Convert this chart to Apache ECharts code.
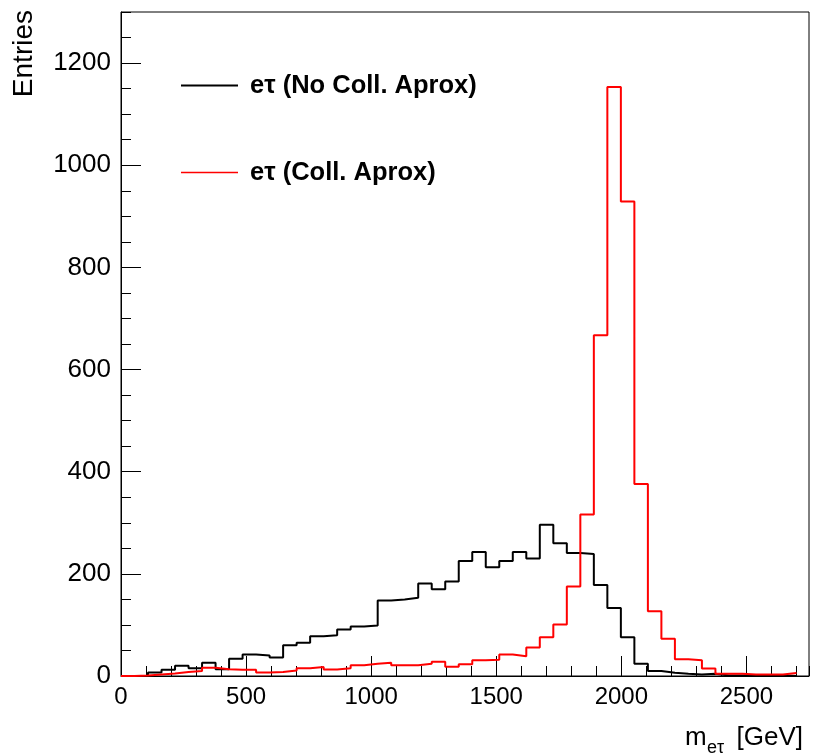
<!DOCTYPE html>
<html><head><meta charset="utf-8">
<script src="https://cdn.jsdelivr.net/npm/echarts@6/dist/echarts.min.js"></script>
<style>html,body{margin:0;padding:0;background:#fff}#c{width:814px;height:754px}</style>
</head><body><div id="c"></div>
<script>
// Histogram binning (GeV)
const binStart = 0;
const binWidth = 54;
// Entries per bin
const noCollApprox = [0, 0, 7, 12, 20, 15, 26, 13, 34, 42,
  40, 36, 60, 65, 78, 80, 91, 97, 99, 148,
  150, 153, 181, 170, 185, 225, 243, 213, 225, 243,
  230, 296, 260, 241, 239, 178, 133, 76, 24, 10,
  6.5, 4.5, 3, 4.5, 1, 1, 1, 0, 1, 0];
const collApprox = [0, 1, 3, 5, 8, 10, 16, 13, 12, 12,
  7, 8, 11, 15, 17.6, 12.5, 15, 21, 24, 26,
  21, 21, 24, 28, 18, 23, 31, 32, 42, 38.5,
  56, 76, 101, 175, 316, 667, 1153, 929, 376, 127,
  73, 33, 31, 14.5, 4.6, 4.6, 3, 3, 3, 6];
const seriesNames = ['e\u03c4 (No Coll. Aprox)', 'e\u03c4 (Coll. Aprox)'];
const xRange = [0, 2750];
const yRange = [0, 1300];

function toSteps(vals) {
  const d = vals.map((v, i) => [binStart + i * binWidth, v]);
  d.push([binStart + vals.length * binWidth, vals[vals.length - 1]]);
  return d;
}

const FONT = 'Liberation Sans, Arial, Helvetica, sans-serif';
const chart = echarts.init(document.getElementById('c'), null, {renderer: 'canvas'});
const legendText = {fontSize: 25.5, fontWeight: 'bold', color: '#000', fontFamily: FONT, padding: [0, 0, 0, 7]};
const plain = v => String(v);
chart.setOption({
  animation: false,
  backgroundColor: '#fff',
  grid: {left: 121, right: 5, top: 12, bottom: 78, show: true, borderColor: '#000', borderWidth: 1, backgroundColor: 'transparent'},
  legend: [
    {data: [seriesNames[0]], left: 181, top: 72.5, padding: 0, icon: 'rect', itemWidth: 57, itemHeight: 2, selectedMode: false, textStyle: legendText},
    {data: [seriesNames[1]], left: 181, top: 159.5, padding: 0, icon: 'rect', itemWidth: 57, itemHeight: 1.5, selectedMode: false, textStyle: legendText}
  ],
  xAxis: [
    {type: 'value', min: xRange[0], max: xRange[1], interval: 500,
     axisLine: {show: true, lineStyle: {color: '#000', width: 1}},
     axisTick: {show: true, inside: true, length: 20, lineStyle: {color: '#000', width: 1}},
     axisLabel: {fontSize: 24, color: '#000', fontFamily: FONT, margin: 9, showMaxLabel: false, formatter: plain},
     splitLine: {show: false}},
    {type: 'value', min: xRange[0], max: xRange[1], interval: 100, position: 'bottom',
     axisLine: {show: false},
     axisTick: {show: true, inside: true, length: 10, lineStyle: {color: '#000', width: 1}},
     axisLabel: {show: false}, splitLine: {show: false}}
  ],
  yAxis: [
    {type: 'value', min: yRange[0], max: yRange[1], interval: 200,
     axisLine: {show: true, lineStyle: {color: '#000', width: 1}},
     axisTick: {show: true, inside: true, length: 20, lineStyle: {color: '#000', width: 1}},
     axisLabel: {fontSize: 26, color: '#000', fontFamily: FONT, margin: 10, showMaxLabel: false, formatter: plain},
     splitLine: {show: false}},
    {type: 'value', min: yRange[0], max: yRange[1], interval: 50, position: 'left',
     axisLine: {show: false},
     axisTick: {show: true, inside: true, length: 10, lineStyle: {color: '#000', width: 1}},
     axisLabel: {show: false}, splitLine: {show: false}}
  ],
  series: [
    {name: seriesNames[0], type: 'line', step: 'end', showSymbol: false, symbol: 'none',
     color: '#000', lineStyle: {color: '#000', width: 2}, data: toSteps(noCollApprox), z: 3},
    {name: seriesNames[1], type: 'line', step: 'end', showSymbol: false, symbol: 'none',
     color: '#ff0000', lineStyle: {color: '#ff0000', width: 2}, data: toSteps(collApprox), z: 4}
  ],
  graphic: [
    {type: 'text', x: 10, y: 10, rotation: Math.PI / 2,
     style: {text: 'Entries', font: '28px ' + FONT, fill: '#000', textAlign: 'right', textVerticalAlign: 'top'}},
    {type: 'text', x: 685, y: 751,
     style: {text: 'm', font: '26px ' + FONT, fill: '#000', textAlign: 'left', textVerticalAlign: 'bottom'}},
    {type: 'text', x: 707, y: 757,
     style: {text: 'e\u03c4', font: '18px ' + FONT, fill: '#000', textAlign: 'left', textVerticalAlign: 'bottom'}},
    {type: 'text', x: 803, y: 751,
     style: {text: '[GeV]', font: '26px ' + FONT, fill: '#000', textAlign: 'right', textVerticalAlign: 'bottom'}}
  ]
});
</script>
</body></html>
